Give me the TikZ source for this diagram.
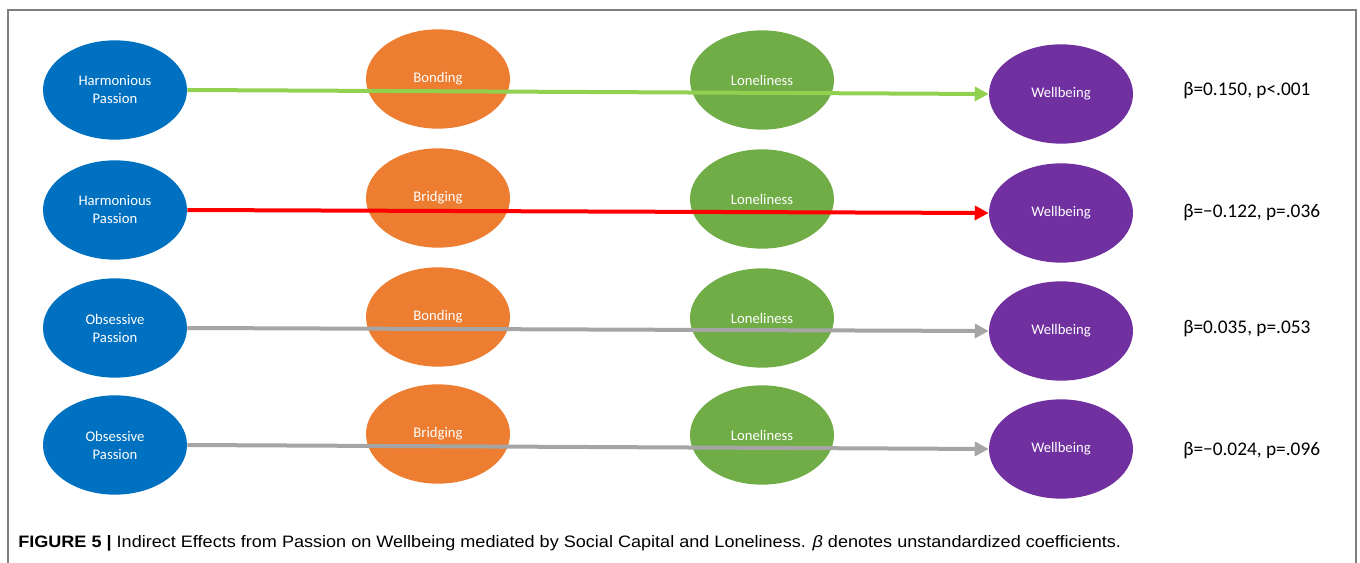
\documentclass[tikz,border=0pt]{standalone}
\usepackage{fontspec}
\setmainfont{Carlito}
\newfontfamily\capfont{Liberation Sans}
\usetikzlibrary{arrows.meta,shapes.geometric}
\definecolor{cblue}{HTML}{0070C0}
\definecolor{corange}{HTML}{ED7D31}
\definecolor{cgreen}{HTML}{70AD47}
\definecolor{cpurple}{HTML}{7030A0}
\definecolor{alight}{HTML}{92D050}
\definecolor{ared}{HTML}{FF0000}
\definecolor{agray}{HTML}{A5A5A5}
\definecolor{framegray}{HTML}{7F7F7F}
\tikzset{
  oval/.style={ellipse, minimum width=108pt, minimum height=74.5pt, inner sep=0pt,
    text=white, font=\fontsize{11}{13.5}\selectfont, align=center},
  pass/.style={oval, fill=cblue},
  soc/.style={oval, fill=corange},
  lone/.style={oval, fill=cgreen},
  well/.style={oval, fill=cpurple},
  coef/.style={anchor=west, font=\fontsize{14.5}{17}\selectfont, inner sep=0pt},
  eff/.style={line width=3pt, -{Triangle[length=10.5pt,width=10.5pt]}},
}
\begin{document}
\begin{tikzpicture}[x=0.75pt,y=-0.75pt]
\useasboundingbox (0,0) rectangle (1360,563);
\draw[framegray, line width=1.5pt] (8,563) -- (8,10) -- (1356,10) -- (1356,563);
% row 1
\node[pass] (hp1) at (115,90) {Harmonious\\Passion};
\node[soc] (bo1) at (438,79) {Bonding};
\node[lone] (lo1) at (762,80) {Loneliness};
\node[well] (wb1) at (1061,94) {Wellbeing};
\node[coef] (c1) at (1183,91) {β=0.150, p<.001};
% row 2
\node[pass] (hp2) at (115,210) {Harmonious\\Passion};
\node[soc] (bo2) at (438,198) {Bridging};
\node[lone] (lo2) at (762,199) {Loneliness};
\node[well] (wb2) at (1061,213) {Wellbeing};
\node[coef] (c2) at (1183,213) {β=−0.122, p=.036};
% row 3
\node[pass] (hp3) at (115,328) {Obsessive\\Passion};
\node[soc] (bo3) at (438,317) {Bonding};
\node[lone] (lo3) at (762,318) {Loneliness};
\node[well] (wb3) at (1061,331) {Wellbeing};
\node[coef] (c3) at (1183,329) {β=0.035, p=.053};
% row 4
\node[pass] (hp4) at (115,445) {Obsessive\\Passion};
\node[soc] (bo4) at (438,434) {Bridging};
\node[lone] (lo4) at (762,435) {Loneliness};
\node[well] (wb4) at (1061,449) {Wellbeing};
\node[coef] (c4) at (1183,451) {β=−0.024, p=.096};
% arrows
\draw[eff, alight] (hp1.east) -- (wb1.west);
\draw[eff, ared] (hp2.east) -- (wb2.west);
\draw[eff, agray] (hp3.east) -- (wb3.west);
\draw[eff, agray] (hp4.east) -- (wb4.west);
% caption
\node[anchor=base west, inner sep=0pt] (cap) at (18,547)
  {\resizebox{827pt}{9pt}{\capfont\textbf{FIGURE 5 |} Indirect Effects from Passion on Wellbeing mediated by Social Capital and Loneliness. \textit{β} denotes unstandardized coefficients.}};
\end{tikzpicture}
\end{document}
